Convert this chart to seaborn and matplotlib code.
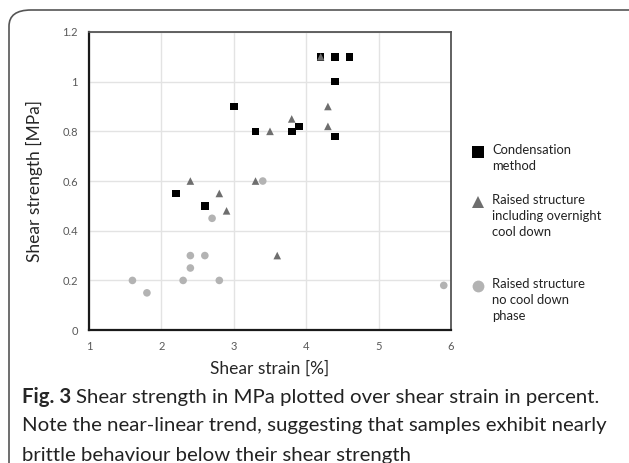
import matplotlib
matplotlib.use("Agg")
import matplotlib.pyplot as plt
from matplotlib.patches import FancyBboxPatch
from matplotlib.lines import Line2D
import pandas as pd
import seaborn as sns

# Data
cond_x = [2.2, 2.6, 3.0, 3.3, 3.8, 3.9, 4.4, 4.4, 4.2, 4.4, 4.6]
cond_y = [0.55, 0.5, 0.9, 0.8, 0.8, 0.82, 0.78, 1.0, 1.1, 1.1, 1.1]

cool_x = [2.4, 2.8, 2.9, 3.3, 3.5, 3.6, 3.8, 4.3, 4.3, 4.2]
cool_y = [0.6, 0.55, 0.48, 0.6, 0.8, 0.3, 0.85, 0.9, 0.82, 1.1]

nocool_x = [1.6, 1.8, 2.3, 2.4, 2.4, 2.6, 2.7, 2.8, 3.4, 5.9]
nocool_y = [0.2, 0.15, 0.2, 0.25, 0.3, 0.3, 0.45, 0.2, 0.6, 0.18]

groups = ["Condensation\nmethod",
          "Raised structure\nincluding overnight\ncool down",
          "Raised structure\nno cool down\nphase"]
colors = ["#000000", "#6e6e6e", "#b3b3b3"]
markers = ["s", "^", "o"]

x_ticks = [1, 2, 3, 4, 5, 6]
y_ticks = [0, 0.2, 0.4, 0.6, 0.8, 1.0, 1.2]
y_tick_labels = ["0", "0.2", "0.4", "0.6", "0.8", "1", "1.2"]

# drawing order: circles, squares, then triangles on top
df = pd.concat([
    pd.DataFrame({"strain": nocool_x, "strength": nocool_y, "group": groups[2]}),
    pd.DataFrame({"strain": cond_x, "strength": cond_y, "group": groups[0]}),
    pd.DataFrame({"strain": cool_x, "strength": cool_y, "group": groups[1]}),
])

sns.set_style("white")
plt.rcParams["font.family"] = ["Lato", "DejaVu Sans"]

fig = plt.figure(figsize=(6.29, 4.63), dpi=100)
ax = fig.add_axes([0.1415, 0.287, 0.5755, 0.644])

sns.scatterplot(data=df, x="strain", y="strength", hue="group", style="group",
                hue_order=groups, style_order=groups,
                palette=dict(zip(groups, colors)), markers=dict(zip(groups, markers)),
                s=30, linewidth=0, legend=False, ax=ax, zorder=3)

ax.set_xlim(1, 6)
ax.set_ylim(0, 1.2)
ax.set_xticks(x_ticks)
ax.set_yticks(y_ticks)
ax.set_yticklabels(y_tick_labels)
ax.tick_params(labelsize=8, colors="#595959", length=0, pad=8)
ax.grid(True, color="#e3e3e3", linewidth=1)
ax.set_axisbelow(True)
for side in ["left", "bottom"]:
    ax.spines[side].set_color("#1a1a1a")
    ax.spines[side].set_linewidth(1.6)
for side in ["top", "right"]:
    ax.spines[side].set_color("#555555")
    ax.spines[side].set_linewidth(1.3)

ax.set_xlabel("Shear strain [%]", fontsize=12.5, labelpad=6)
ax.set_ylabel("Shear strength [MPa]", fontsize=12.5, labelpad=14)

# custom legend on the right
leg_rows = [152, 202, 286]
for g, c, m, yp in zip(groups, colors, markers, leg_rows):
    yf = 1 - yp / 463
    fig.add_artist(Line2D([478 / 629], [yf], marker=m, color=c, linestyle="none",
                          markersize=8.5, markeredgewidth=0, transform=fig.transFigure))
    fig.text(492 / 629, yf + 8 / 463, g, fontsize=9.4, va="top", ha="left",
             linespacing=1.4, color="#222222")

# caption
cap_size = 14.7
fig.text(22 / 629, 1 - 397 / 463, "Fig. 3", fontsize=cap_size, fontweight="bold",
         va="center", ha="left")
fig.text(76 / 629, 1 - 397 / 463, "Shear strength in MPa plotted over shear strain in percent.",
         fontsize=cap_size, va="center", ha="left", color="#222222")
fig.text(22 / 629, 1 - 426 / 463, "Note the near-linear trend, suggesting that samples exhibit nearly",
         fontsize=cap_size, va="center", ha="left", color="#222222")
fig.text(22 / 629, 1 - 455 / 463, "brittle behaviour below their shear strength",
         fontsize=cap_size, va="center", ha="left", color="#222222")

# rounded frame around the figure
frame = FancyBboxPatch((9 / 629, -0.1), 1.5, 1.1 - 10 / 463,
                       boxstyle="round,pad=0,rounding_size=0.035",
                       transform=fig.transFigure, fill=False,
                       edgecolor="#555555", linewidth=1.2)
fig.add_artist(frame)

fig.savefig("out.png", dpi=100)
